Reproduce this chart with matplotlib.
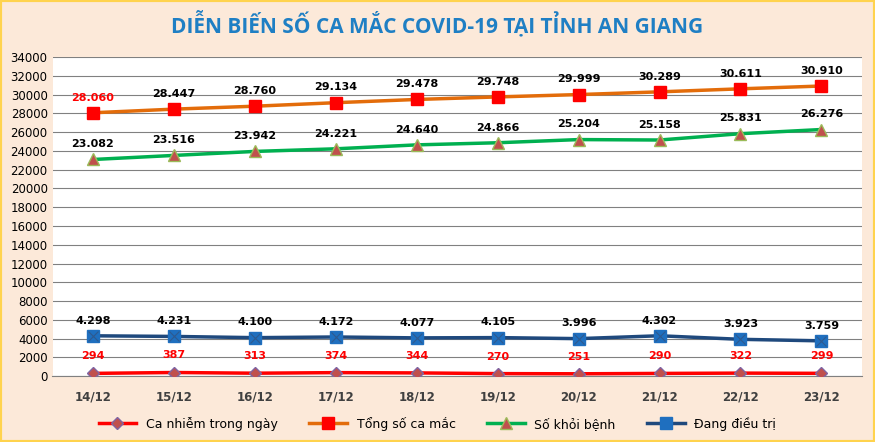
import matplotlib
matplotlib.use("Agg")
import matplotlib.pyplot as plt
from matplotlib.patches import Rectangle

dates = ["14/12","15/12","16/12","17/12","18/12","19/12","20/12","21/12","22/12","23/12"]
daily = [294,387,313,374,344,270,251,290,322,299]
total = [28060,28447,28760,29134,29478,29748,29999,30289,30611,30910]
recovered = [23082,23516,23942,24221,24640,24866,25204,25158,25831,26276]
treating = [4298,4231,4100,4172,4077,4105,3996,4302,3923,3759]

def fmt(v):
    return f"{v:,}".replace(",", ".")

fig = plt.figure(figsize=(8.75,4.42), dpi=100, facecolor="#FCE9D9")
fig.patches.append(Rectangle((0,0),1,1,transform=fig.transFigure,fill=False,
                             edgecolor="#FFD34E",linewidth=3))
ax = fig.add_axes([0.06,0.149,0.925,0.722])
x = list(range(len(dates)))
ax.plot(x, daily, color="#FF0000", lw=2.5, marker="D", ms=6, mfc="#C0504D", mec="#8064A2", label="Ca nhiễm trong ngày", zorder=3)
ax.plot(x, total, color="#E36C0A", lw=2.5, marker="s", ms=8, mfc="#FF0000", mec="#FF0000", label="Tổng số ca mắc", zorder=3)
ax.plot(x, recovered, color="#00B050", lw=2.5, marker="^", ms=8, mfc="#C0504D", mec="#9BBB59", label="Số khỏi bệnh", zorder=3)
ax.plot(x, treating, color="#1F497D", lw=2.5, marker="s", ms=9, mfc="#1F6FBF", mec="#1F6FBF", label="Đang điều trị", zorder=3)
ax.plot(x, treating, lw=0, marker="x", ms=7, mec="#2E5A8F", mew=0.8, zorder=4)
for i in x:
    ax.text(i, daily[i]+1500, fmt(daily[i]), color="red", ha="center", fontsize=8, fontweight="bold")
    ax.text(i, total[i]+1300, fmt(total[i]), color="red" if i==0 else "black", ha="center", fontsize=8, fontweight="bold")
    ax.text(i, recovered[i]+1300, fmt(recovered[i]), color="black", ha="center", fontsize=8, fontweight="bold")
    ax.text(i, treating[i]+1300, fmt(treating[i]), color="black", ha="center", fontsize=8, fontweight="bold")
ax.set_xlim(-0.5, 9.5)
ax.set_ylim(0, 34000)
ax.set_yticks(range(0, 34001, 2000))
ax.set_xticks(x)
ax.set_xticklabels(dates, fontsize=8.5, fontweight="bold", color="#404040")
ax.tick_params(axis="y", labelsize=8.5, length=0)
ax.tick_params(axis="x", length=0, pad=10)
ax.grid(axis="y", color="#808080", lw=0.8)
ax.set_axisbelow(True)
for s in ax.spines.values():
    s.set_visible(False)
ax.spines["bottom"].set_visible(True)
ax.spines["bottom"].set_color("#808080")
fig.text(0.5, 0.945, "DIỄN BIẾN SỐ CA MẮC COVID-19 TẠI TỈNH AN GIANG", ha="center", va="center",
         fontsize=15, fontweight="bold", color="#1F7FC4", fontfamily="Open Sans")
fig.legend(loc="lower center", bbox_to_anchor=(0.5, 0.0), ncol=4, frameon=False, fontsize=9,
           handlelength=3, columnspacing=2.5)
fig.savefig("out.png", dpi=100, facecolor=fig.get_facecolor())
